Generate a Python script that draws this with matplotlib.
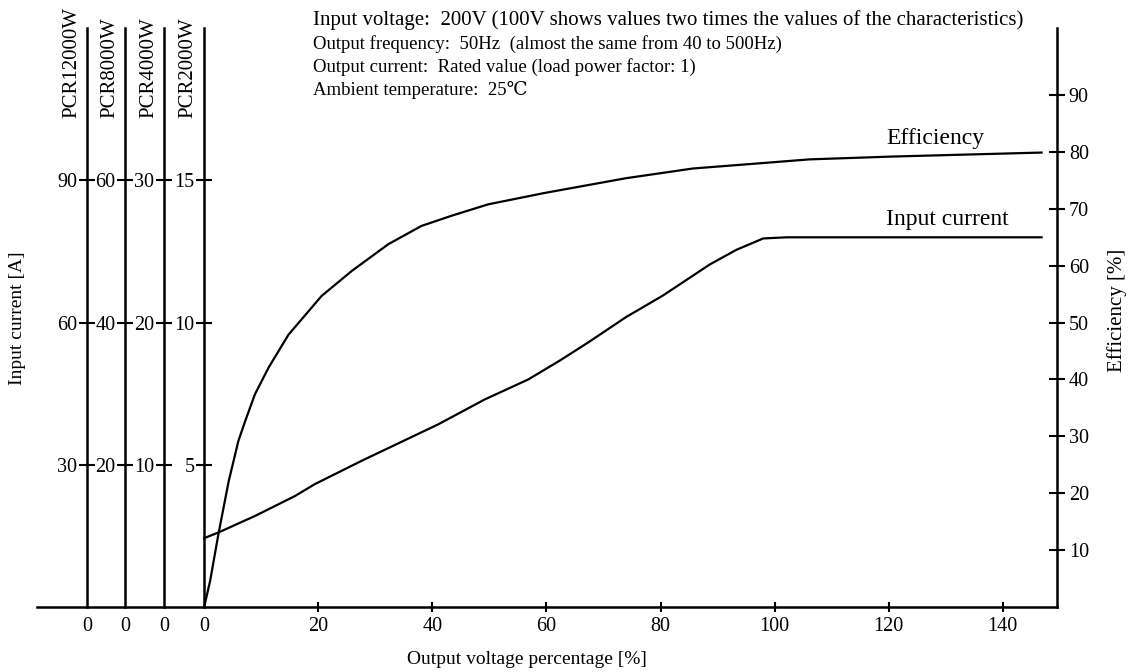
import matplotlib
matplotlib.use("Agg")
import matplotlib.pyplot as plt

plt.rcParams["font.family"] = ["Liberation Serif", "DejaVu Serif", "DejaVu Sans"]
plt.rcParams["font.size"] = 14

# output voltage percentage [%] vs efficiency [%]
eff_x = [0, 1.05, 2.5, 4.3, 6.0, 7.2, 8.9, 11.3, 14.8, 20.6, 25.9, 32.3, 38.1,
         43.4, 49.8, 59.7, 74.0, 85.7, 98.5, 106.1, 120.7, 146.8]
eff_y = [0, 4.6, 12.8, 22.1, 29.2, 32.7, 37.4, 42.1, 47.9, 54.7, 59.1, 63.8, 67.0,
         68.8, 70.8, 72.8, 75.4, 77.1, 78.1, 78.7, 79.2, 79.9]

# output voltage percentage [%] vs input current [A] (PCR2000W scale)
cur_x = [0, 2.5, 8.9, 15.9, 19.4, 27.6, 41.0, 49.2, 56.8, 62.3, 67.3, 74.0,
         80.4, 88.6, 93.3, 98.0, 102.1, 146.8]
cur_y = [2.42, 2.62, 3.2, 3.9, 4.32, 5.14, 6.42, 7.3, 8.0, 8.66, 9.3, 10.2,
         10.95, 12.04, 12.56, 12.96, 13.0, 13.0]

# one current scale per model, placed left of the origin
models = ["PCR12000W", "PCR8000W", "PCR4000W", "PCR2000W"]
model_x = [-20.5, -13.8, -7.0, 0.0]
model_factor = [1.2, 0.8, 0.4, 0.2]     # amps per efficiency-percent
model_ticks = [[30, 60, 90], [20, 40, 60], [10, 20, 30], [5, 10, 15]]

x_ticks = [20, 40, 60, 80, 100, 120, 140]
eff_ticks = [10, 20, 30, 40, 50, 60, 70, 80, 90]

conditions = [
    "Output frequency:  50Hz  (almost the same from 40 to 500Hz)",
    "Output current:  Rated value (load power factor: 1)",
    "Ambient temperature:  25\u2103",
]

XMIN, XMAX = -29.3, 149.5
YMAX = 101.8
LW_AX = 1.8
TICK_FS = 14.5

fig = plt.figure(figsize=(11.33, 6.72), dpi=100)
ax = fig.add_axes([37 / 1133, 1 - 607 / 672, 1020 / 1133, 579 / 672])
ax.set_xlim(XMIN, XMAX)
ax.set_ylim(0, YMAX)

ax.plot(eff_x, eff_y, color="black", lw=1.6)

ax_cur = ax.twinx()
ax_cur.set_ylim(0, YMAX * model_factor[-1])
ax_cur.plot(cur_x, cur_y, color="black", lw=1.6)
ax_cur.axis("off")

for side in ["top", "left"]:
    ax.spines[side].set_visible(False)
for side in ["bottom", "right"]:
    ax.spines[side].set_linewidth(LW_AX)

ax.yaxis.tick_right()
ax.set_yticks(eff_ticks)
ax.tick_params(axis="y", direction="inout", length=11, width=1.5, pad=3,
               labelsize=TICK_FS)

ax.set_xticks(x_ticks)
ax.tick_params(axis="x", which="major", direction="inout", length=7, width=1.5,
               pad=4, labelsize=TICK_FS)
ax.set_xticks(model_x, ["0"] * len(model_x), minor=True)
ax.tick_params(axis="x", which="minor", length=0, pad=7.5, labelsize=TICK_FS)

for name, xpos, f, ticks in zip(models, model_x, model_factor, model_ticks):
    loc = (xpos - XMIN) / (XMAX - XMIN)
    sec = ax.secondary_yaxis(loc, functions=(lambda e, f=f: e * f,
                                             lambda a, f=f: a / f))
    sec.set_alignment("left")
    sec.set_yticks(ticks)
    sec.tick_params(direction="inout", length=11, width=1.5, pad=1.5,
                    labelsize=TICK_FS)
    sec.spines["left"].set_linewidth(LW_AX)
    ax.text(xpos - 1.1, 86.0, name, rotation=90, ha="right", va="bottom",
            fontsize=15)

ax.text(119.6, 82.4, "Efficiency", ha="left", va="center", fontsize=17)
ax.text(119.6, 68.2, "Input current", ha="left", va="center", fontsize=17)

fig.text(18 / 1133, 1 - 318 / 672, "Input current [A]", rotation=90,
         ha="center", va="center", fontsize=14)
fig.text(1117 / 1133, 1 - 310 / 672, "Efficiency [%]", rotation=90,
         ha="center", va="center", fontsize=15)
fig.text(527 / 1133, 1 - 660 / 672, "Output voltage percentage [%]",
         ha="center", va="center", fontsize=14)

# test conditions
fig.text(313 / 1133, 1 - 20 / 672,
         "Input voltage:  200V (100V shows values two times the values "
         "of the characteristics)",
         ha="left", va="center", fontsize=15)
for i, line in enumerate(conditions):
    fig.text(313 / 1133, 1 - (44 + 23 * i) / 672, line, ha="left",
             va="center", fontsize=13.5)

fig.savefig("out.png", dpi=100)
